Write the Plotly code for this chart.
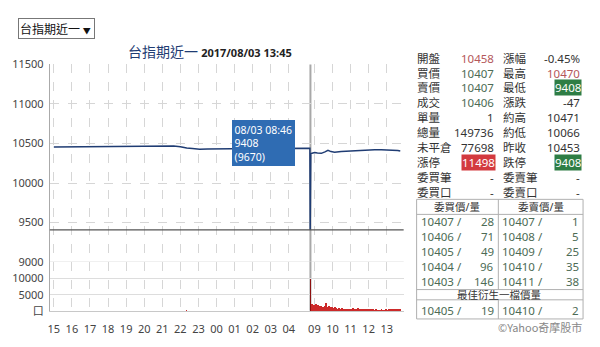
import plotly.graph_objects as go

W, H = 600, 347

# ---------------- data ----------------
night_times = ["15:00", "15:30", "16:30", "17:30", "18:30", "19:30", "20:30", "21:15", "21:38",
               "22:00", "22:21", "22:40", "23:04", "23:30", "00:30", "01:30", "02:30", "03:30",
               "04:30", "05:00"]
night_prices = [10456, 10457, 10456, 10457, 10458, 10458, 10460, 10462, 10469,
                10460, 10442, 10436, 10427, 10432, 10434, 10433, 10436, 10438,
                10440, 10440]

day_times = ["08:45", "08:46", "08:48", "08:52", "09:01", "09:10", "09:23", "09:35", "09:45",
             "09:55", "10:07", "10:29", "10:52", "11:14", "11:36", "11:58", "12:20", "12:42",
             "13:04", "13:26", "13:37", "13:45"]
day_prices = [10440, 9408, 10372, 10378, 10387, 10381, 10376, 10395, 10415,
              10398, 10391, 10400, 10406, 10410, 10414, 10420, 10422, 10422,
              10420, 10415, 10412, 10406]

spike_time, spike_volume = "08:46", 9670
night_vol_times = ["22:20"]
night_vol_values = [150]
vol_start, vol_step = "08:48", 3
day_vol_values = [
    1800, 2200, 1500, 1900, 1200, 1600, 2000, 1300, 1700, 1100, 1500, 1400, 900, 1300, 1200,
    1000, 1400, 2300, 1200, 900, 1600, 1100, 800, 1200, 1000, 700, 900, 1300, 800, 600,
    700, 900, 500, 600, 800, 400, 500, 700, 300, 400, 500, 300, 400, 600, 300,
    300, 500, 900, 400, 700, 300, 500, 800, 400, 300, 600, 300, 200, 400, 300,
    300, 700, 400, 200, 300, 500, 200, 300, 200, 400, 200, 100, 300, 200, 200,
    200, 100, 200, 300, 100, 200, 100, 200, 300, 100, 200, 600, 400, 300, 200,
    500, 300, 400, 200, 600, 300, 500, 400, 700, 500]

hour_ticks = ["15", "16", "17", "18", "19", "20", "21", "22", "23", "00", "01", "02", "03", "04",
              "09", "10", "11", "12", "13"]
price_ticks = [9000, 9500, 10000, 10500, 11000, 11500]
vol_ticks = [0, 5000, 10000]
vol_tick_text = ["口", "5000", "10000"]

title_name = "台指期近一"
title_time = "2017/08/03 13:45"
tooltip_date = "08/03"
limit_down = 9408

info_left_labels = ["開盤", "買價", "賣價", "成交", "單量", "總量", "未平倉", "漲停", "委買筆", "委買口"]
info_left_values = ["10458", "10407", "10407", "10406", "1", "149736", "77698", "11498", "-", "-"]
info_right_labels = ["漲幅", "最高", "最低", "漲跌", "約高", "約低", "昨收", "跌停", "委賣筆", "委賣口"]
info_right_values = ["-0.45%", "10470", "9408", "-47", "10471", "10066", "10453", "9408", "-", "-"]

bid_prices = [10407, 10406, 10405, 10404, 10403]
bid_qty = [28, 71, 49, 96, 146]
ask_prices = [10407, 10408, 10409, 10410, 10411]
ask_qty = [1, 5, 25, 35, 38]
best_bid = (10405, 19)
best_ask = (10410, 2)

# ---------------- helpers ----------------
def px(x):
    return x / W

def py(y):
    return 1 - y / H

def tpos(t):
    h, m = map(int, t.split(":"))
    mins = h * 60 + m
    if 8 * 60 + 45 <= mins <= 13 * 60 + 45:
        return 850 + mins - (8 * 60 + 45)
    return (mins - 15 * 60) % 1440

def add_min(t, k):
    h, m = map(int, t.split(":"))
    v = h * 60 + m + k
    return f"{v // 60:02d}:{v % 60:02d}"

FONT = "Noto Sans, Noto Sans CJK TC, sans-serif"
CJK = "Noto Sans CJK TC, Noto Sans, sans-serif"
NAVY = "#1f3c73"
RED_T = "#b4575a"
GREEN_T = "#4d6b55"
DARK = "#333333"

x_price = [tpos(t) for t in night_times + day_times]
y_price = night_prices + day_prices

vol_times = [add_min(vol_start, i * vol_step) for i in range(len(day_vol_values))]

fig = go.Figure()
fig.add_trace(go.Bar(x=[tpos(t) for t in vol_times], y=day_vol_values,
                     width=[vol_step] * len(day_vol_values),
                     marker=dict(color="#cc2a2a", line=dict(width=0)),
                     xaxis="x2", yaxis="y2", hoverinfo="skip"))
fig.add_trace(go.Bar(x=[tpos(spike_time)], y=[spike_volume], width=[1.6],
                     marker=dict(color="#8e1010", line=dict(width=0)),
                     xaxis="x2", yaxis="y2", hoverinfo="skip"))
fig.add_trace(go.Bar(x=[tpos(t) for t in night_vol_times], y=night_vol_values, width=[3],
                     marker=dict(color="#cc2a2a", line=dict(width=0)),
                     xaxis="x2", yaxis="y2", hoverinfo="skip"))
fig.add_trace(go.Scatter(x=x_price, y=y_price, mode="lines",
                         line=dict(color=NAVY, width=1.5), xaxis="x", yaxis="y",
                         hoverinfo="skip"))

x_left, x_right = 48, 403
x_scale = (386 - 52) / 1105.0
xr = [(x_left - 52) / x_scale, (x_right - 52) / x_scale]
tickvals = [tpos(h + ":00") for h in hour_ticks]

grid = "#d6d6d6"
common_x = dict(range=xr, domain=[px(x_left), px(x_right)], tickvals=tickvals, ticktext=hour_ticks,
                showgrid=True, gridcolor=grid, griddash="dash", gridwidth=1, zeroline=False,
                fixedrange=True)
fig.update_layout(
    width=W, height=H, autosize=False,
    margin=dict(l=0, r=0, t=0, b=0),
    paper_bgcolor="white", plot_bgcolor="white",
    showlegend=False, bargap=0, barmode="overlay",
    font=dict(family=FONT, size=11, color="#444"),
    xaxis=dict(**common_x, anchor="y", showticklabels=False, showline=False),
    xaxis2=dict(**common_x, anchor="y2", matches="x", showticklabels=True,
                showline=True, linecolor="#c8c8c8", linewidth=1,
                tickfont=dict(size=11, color="#444"), ticks="", ticklabelstandoff=8),
    yaxis=dict(domain=[py(265.6), py(59)], range=[9000, 11500], tickvals=price_ticks,
               tickformat="d",
               showgrid=True, gridcolor=grid, griddash="dash", zeroline=False,
               showline=True, linecolor="#aaaaaa", linewidth=1, ticks="",
               ticklabelstandoff=3, tickfont=dict(size=11, color="#444"), anchor="x"),
    yaxis2=dict(domain=[py(316.7), py(265.6)], range=[0, 15030], tickvals=vol_ticks,
                ticktext=vol_tick_text, showgrid=True, gridcolor="#dddddd", zeroline=False,
                showline=True, linecolor="#aaaaaa", linewidth=1, ticks="",
                ticklabelstandoff=3, tickfont=dict(size=11, color="#444"), anchor="x2"),
)

shapes = []
# 9000 solid divider
shapes.append(dict(type="line", xref="paper", yref="y", x0=px(x_left), x1=px(x_right),
                   y0=9000, y1=9000, line=dict(color="#d8d8d8", width=1)))
# limit-down reference line
shapes.append(dict(type="line", xref="paper", yref="y", x0=px(x_left), x1=px(x_right),
                   y0=limit_down, y1=limit_down, line=dict(color="#555555", width=1.2)))
# cursor line
cx = tpos(spike_time) + 0.8
shapes.append(dict(type="line", xref="x", yref="paper", x0=cx, x1=cx, y0=py(316.5), y1=py(59),
                   line=dict(color="#a8a8a8", width=2), layer="below"))

annotations = []
# dropdown
annotations.append(dict(x=px(16), y=py(10), xref="paper", yref="paper", xanchor="left", yanchor="top",
                        showarrow=False,
                        text="台指期近一&nbsp;<span style='font-size:8px'>▼</span>&nbsp;",
                        font=dict(family=CJK, size=12, color="#111"),
                        bordercolor="#777", borderwidth=1, borderpad=1, bgcolor="white"))
# title
annotations.append(dict(x=px(209), y=py(45), xref="paper", yref="paper", xanchor="center",
                        yanchor="middle", showarrow=False,
                        text=(f"{title_name} <span style='font-size:11px;color:#222;"
                              f"font-family:Noto Sans'><b>{title_time}</b></span>"),
                        font=dict(family=CJK, size=14, color=NAVY)))
# tooltip
tip_price = day_prices[day_times.index(spike_time)]
annotations.append(dict(x=px(231), y=py(117), xref="paper", yref="paper", xanchor="left",
                        yanchor="top", showarrow=False, align="left",
                        text=f"{tooltip_date} {spike_time}<br>{tip_price}<br>({spike_volume})",
                        font=dict(family=FONT, size=10.5, color="white"),
                        bgcolor="#2f6cb3", bordercolor="#2f6cb3", borderwidth=1, borderpad=1.5))

# info panel
row0, step = 52.3, 15.65
FS = 11.5
left_colors = [RED_T, GREEN_T, GREEN_T, GREEN_T, DARK, DARK, DARK, "white", DARK, DARK]
right_colors = [DARK, RED_T, "white", DARK, DARK, DARK, DARK, "white", DARK, DARK]
left_bg = [None] * 7 + ["#d33a3f", None, None]
right_bg = [None, None, "#2e7d45", None, None, None, None, "#2e7d45", None, None]
for i in range(len(info_left_labels)):
    y = py(row0 + i * step)
    annotations.append(dict(x=px(414), y=y, xref="paper", yref="paper", xanchor="left",
                            yanchor="middle", showarrow=False, text=info_left_labels[i],
                            font=dict(family=FONT, size=FS, color=DARK)))
    a = dict(x=px(496), y=y, xref="paper", yref="paper", xanchor="right", yanchor="middle",
             showarrow=False, text=info_left_values[i],
             font=dict(family=FONT, size=FS, color=left_colors[i]))
    if left_bg[i]:
        a.update(bgcolor=left_bg[i], borderpad=0)
    annotations.append(a)
    annotations.append(dict(x=px(501), y=y, xref="paper", yref="paper", xanchor="left",
                            yanchor="middle", showarrow=False, text=info_right_labels[i],
                            font=dict(family=FONT, size=FS, color=DARK)))
    b = dict(x=px(582), y=y, xref="paper", yref="paper", xanchor="right", yanchor="middle",
             showarrow=False, text=info_right_values[i],
             font=dict(family=FONT, size=FS, color=right_colors[i]))
    if right_bg[i]:
        b.update(bgcolor=right_bg[i], borderpad=0)
    annotations.append(b)

# order book table
tl, tm, tr = 416, 498, 583
tt, th, t5, tb5, tbot = 200, 215.7, 294.3, 305, 325
lc = "#b0b0b0"
shapes.append(dict(type="rect", xref="paper", yref="paper", x0=px(tl), x1=px(tr), y0=py(tbot),
                   y1=py(tt), line=dict(color=lc, width=1)))
for yy in (th, t5, tb5):
    shapes.append(dict(type="line", xref="paper", yref="paper", x0=px(tl), x1=px(tr),
                       y0=py(yy), y1=py(yy), line=dict(color=lc, width=1)))
shapes.append(dict(type="line", xref="paper", yref="paper", x0=px(tm), x1=px(tm),
                   y0=py(t5), y1=py(tt), line=dict(color=lc, width=1)))
shapes.append(dict(type="line", xref="paper", yref="paper", x0=px(tm), x1=px(tm),
                   y0=py(tbot), y1=py(tb5), line=dict(color=lc, width=1)))

for xx, txt, yy in (((tl + tm) / 2, "委買價/量", 207.8), ((tm + tr) / 2, "委賣價/量", 207.8),
                    ((tl + tr) / 2, "最佳衍生一檔價量", 300.0)):
    annotations.append(dict(x=px(xx), y=py(yy), xref="paper", yref="paper", xanchor="center",
                            yanchor="middle", showarrow=False, text=txt,
                            font=dict(family=FONT, size=10.5, color=DARK)))

def book_row(y, bp, bq, ap, aq):
    for xx, txt, anc in ((418, f"{bp} /", "left"), (496, str(bq), "right"),
                         (500, f"{ap} /", "left"), (581, str(aq), "right")):
        annotations.append(dict(x=px(xx), y=py(y), xref="paper", yref="paper", xanchor=anc,
                                yanchor="middle", showarrow=False, text=txt,
                                font=dict(family=FONT, size=11.5, color=GREEN_T)))

book_rows_y = [223.3, 239.0, 254.5, 270.0, 285.7]
for i in range(len(bid_prices)):
    book_row(book_rows_y[i], bid_prices[i], bid_qty[i], ask_prices[i], ask_qty[i])
book_row(316.0, best_bid[0], best_bid[1], best_ask[0], best_ask[1])

annotations.append(dict(x=px(584), y=py(333), xref="paper", yref="paper", xanchor="right",
                        yanchor="middle", showarrow=False, text="©Yahoo奇摩股市",
                        font=dict(family=CJK, size=11, color="#888")))

fig.update_layout(shapes=shapes, annotations=annotations)
fig.write_html("out.html")
